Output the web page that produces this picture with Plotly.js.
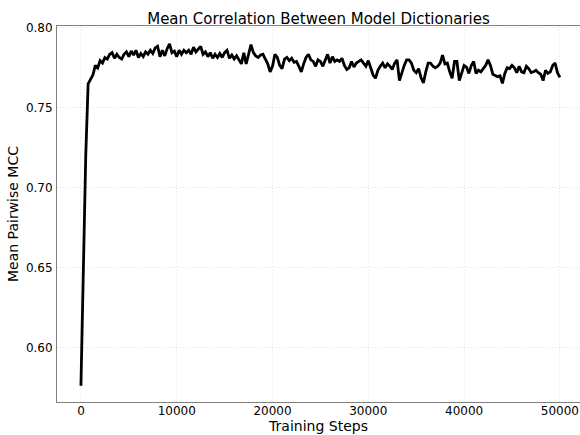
<!DOCTYPE html>
<html>
<head>
<meta charset="utf-8">
<script src="https://cdn.plot.ly/plotly-3.0.1.min.js"></script>
<style>
  html, body { margin: 0; padding: 0; background: #fff; }
  #chart { width: 580px; height: 435px; }
</style>
</head>
<body>
<div id="chart"></div>
<script>
// Training step at which each correlation value was logged (every 250 steps)
const stepStart = 0;
const stepEvery = 250;

// Mean pairwise MCC between model dictionaries, one value per logged step
const mccEarly = [
  0.576, 0.656, 0.720, 0.765, 0.768, 0.7705, 0.7765, 0.775, 0.7795, 0.778,
  0.7815, 0.7805, 0.7835, 0.7845, 0.781, 0.7835, 0.7815, 0.7805, 0.7835, 0.785,
  0.782, 0.7855, 0.783, 0.786, 0.7815, 0.784, 0.782, 0.785, 0.7835, 0.786,
  0.784, 0.7875, 0.7885, 0.782, 0.786, 0.7825, 0.787, 0.790, 0.7845, 0.7855,
  0.782, 0.786, 0.7835, 0.786, 0.7845
];
const mccMiddle = [
  0.786, 0.7835, 0.788, 0.785, 0.7865, 0.7885, 0.7835, 0.785, 0.782, 0.7845,
  0.781, 0.7835, 0.7815, 0.784, 0.7815, 0.7845, 0.786, 0.781, 0.783, 0.7805,
  0.7825, 0.780, 0.7775, 0.7845, 0.7775, 0.7835, 0.7895, 0.7845, 0.7825, 0.7815,
  0.783, 0.7835, 0.7805, 0.7775, 0.7725, 0.776, 0.7835, 0.7815, 0.7765, 0.7745,
  0.7805, 0.7815, 0.7795, 0.781, 0.7785, 0.779, 0.776, 0.7725, 0.7775, 0.7815,
  0.7835
];
const mccLate = [
  0.780, 0.779, 0.776, 0.780, 0.779, 0.776, 0.780, 0.7835, 0.778, 0.782,
  0.779, 0.780, 0.779, 0.781, 0.7765, 0.774, 0.775, 0.779, 0.7755, 0.778,
  0.779, 0.780, 0.778, 0.776, 0.7795, 0.7745, 0.7705, 0.7685, 0.7735, 0.776,
  0.778, 0.775, 0.7775, 0.776, 0.774, 0.778, 0.780, 0.767, 0.772, 0.7765,
  0.780, 0.780, 0.778, 0.7735, 0.772, 0.7745, 0.769, 0.7655, 0.7725, 0.778
];
const mccFinal = [
  0.778, 0.776, 0.775, 0.776, 0.778, 0.783, 0.7775, 0.778, 0.7725, 0.7685,
  0.779, 0.779, 0.767, 0.7725, 0.7765, 0.7755, 0.7715, 0.7765, 0.779, 0.7715,
  0.7735, 0.7725, 0.7745, 0.7765, 0.780, 0.7765, 0.771, 0.770, 0.7695, 0.770,
  0.7653, 0.7715, 0.775, 0.7745, 0.7765, 0.775, 0.772, 0.776, 0.7725, 0.772,
  0.776, 0.7745, 0.772, 0.7725, 0.7735, 0.772, 0.771, 0.767, 0.7735, 0.7715,
  0.7725, 0.7765, 0.778, 0.772, 0.769
];

const xTickVals = [0, 10000, 20000, 30000, 40000, 50000];
const xTickText = ['0', '10000', '20000', '30000', '40000', '50000'];
const yTickVals = [0.60, 0.65, 0.70, 0.75, 0.80];
const yTickText = ['0.60', '0.65', '0.70', '0.75', '0.80'];

const mcc = mccEarly.concat(mccMiddle, mccLate, mccFinal);
const steps = mcc.map((_, i) => stepStart + i * stepEvery);

const font = 'DejaVu Sans, Liberation Sans, sans-serif';

const trace = {
  x: steps,
  y: mcc,
  type: 'scatter',
  mode: 'lines',
  line: { color: '#000000', width: 2.8 },
  hoverinfo: 'skip'
};

const gridStyle = {
  showgrid: true,
  gridcolor: '#dedede',
  griddash: '1px,2px',
  gridwidth: 0.8,
  zeroline: false,
  showline: true,
  linecolor: '#808080',
  linewidth: 1,
  ticks: '',
  tickfont: { family: font, size: 12, color: '#000000' }
};

const layout = {
  width: 580,
  height: 435,
  margin: { l: 57, r: 0, t: 26, b: 33, pad: 0 },
  paper_bgcolor: '#ffffff',
  plot_bgcolor: '#ffffff',
  showlegend: false,
  font: { family: font, color: '#000000', size: 12 },
  title: {
    text: 'Mean Correlation Between Model Dictionaries',
    font: { family: font, size: 15, color: '#000000' },
    x: 0.5, xref: 'paper', xanchor: 'center',
    y: 1 - 18.5 / 435, yref: 'container', yanchor: 'middle'
  },
  xaxis: Object.assign({}, gridStyle, {
    range: [-2500, 52100],
    tickvals: xTickVals,
    ticktext: xTickText,
    ticklabelstandoff: -2,
    mirror: true,
    title: {
      text: 'Training Steps',
      font: { family: font, size: 14, color: '#000000' },
      standoff: 0
    }
  }),
  yaxis: Object.assign({}, gridStyle, {
    range: [0.5658, 0.8012],
    tickvals: yTickVals,
    ticktext: yTickText,
    ticklabelstandoff: 1,
    title: {
      text: 'Mean Pairwise MCC',
      font: { family: font, size: 14, color: '#000000' },
      standoff: 3
    }
  })
};

Plotly.newPlot('chart', [trace], layout, { staticPlot: true, displayModeBar: false });
</script>
</body>
</html>
